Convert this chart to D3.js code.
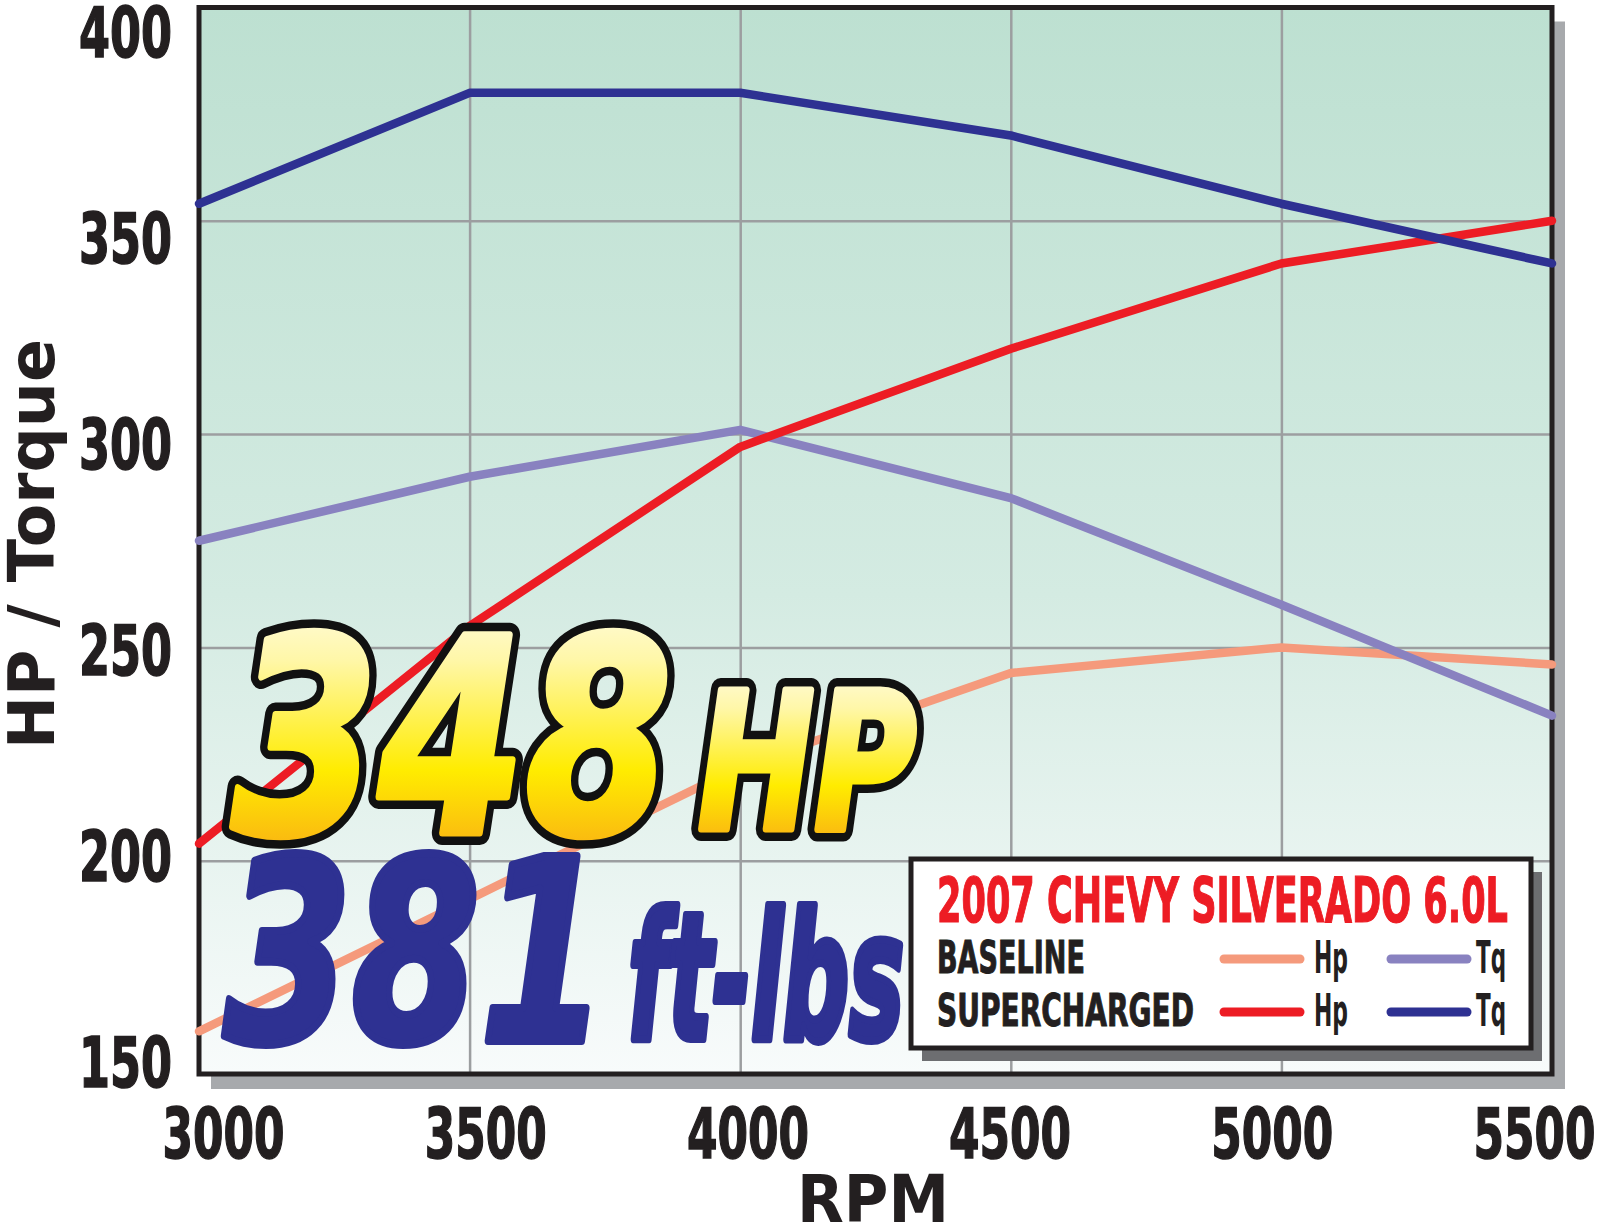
<!DOCTYPE html>
<html><head><meta charset="utf-8">
<script src="https://cdn.jsdelivr.net/npm/d3@7"></script>
<style>
html,body{margin:0;padding:0;background:#fff;}
svg{display:block;}
</style></head><body>
<script>
// ---- data ----
const rpm = [3000, 3500, 4000, 4500, 5000, 5500];
const baselineHp = [160, 191, 222, 244, 250, 246];
const baselineTq = [275, 290, 301, 285, 260, 234];
const superHp = [204, 255, 297, 320, 340, 350];
const superTq = [354, 380, 380, 370, 354, 340];
const yTicks = [150, 200, 250, 300, 350, 400];
const xTicks = [3000, 3500, 4000, 4500, 5000, 5500];
const seriesColors = ["#f59a7c", "#8982c0", "#ed1c24", "#2e3192"];
const legendRows = ["BASELINE", "SUPERCHARGED"];
const legendUnits = ["Hp", "Tq"];
const chartTitle = "2007 CHEVY SILVERADO 6.0L";
const peakHp = "348", peakHpUnit = "HP";
const peakTq = "381", peakTqUnit = "ft-lbs";
const yTitle = "HP / Torque", xTitle = "RPM";

const W = 1600, H = 1231;
const P = {l: 199, r: 1552, t: 7.5, b: 1074};
const narrow = "'Liberation Sans Narrow','Arial Narrow','DejaVu Sans Condensed',sans-serif";
const wide = "'DejaVu Sans','Verdana',sans-serif";

const svg = d3.select("body").append("svg").attr("width", W).attr("height", H);
const defs = svg.append("defs");
const bg = defs.append("linearGradient").attr("id", "bg").attr("x1", 0).attr("y1", 0).attr("x2", 0).attr("y2", 1);
bg.append("stop").attr("offset", "0").attr("stop-color", "#bde0d1");
bg.append("stop").attr("offset", "0.55").attr("stop-color", "#d4ebe2");
bg.append("stop").attr("offset", "1").attr("stop-color", "#f8fbfb");
const gold = defs.append("linearGradient").attr("id", "gold").attr("x1", 0).attr("y1", 0).attr("x2", 0).attr("y2", 1);
gold.append("stop").attr("offset", "0").attr("stop-color", "#fffdf0");
gold.append("stop").attr("offset", "0.25").attr("stop-color", "#fff7a8");
gold.append("stop").attr("offset", "0.6").attr("stop-color", "#ffec00");
gold.append("stop").attr("offset", "1").attr("stop-color", "#f7941d");

const x = d3.scaleLinear().domain([3000, 5500]).range([P.l, P.r]);
const y = d3.scaleLinear().domain([150, 400]).range([P.b, P.t]);
const xLab = d3.scaleLinear().domain([3000, 5500]).range([223, 1534]);
const yLab = d3.scaleLinear().domain([150, 400]).range([1086, 56]);

// shadow + plot area
svg.append("rect").attr("x", P.l + 12).attr("y", P.t + 14).attr("width", P.r - P.l + 1).attr("height", P.b - P.t + 1).attr("fill", "#a7a9ac");
svg.append("rect").attr("x", P.l).attr("y", P.t).attr("width", P.r - P.l).attr("height", P.b - P.t).attr("fill", "url(#bg)");

// grid
svg.append("g").attr("transform", `translate(0,${P.b})`)
  .call(d3.axisBottom(x).tickValues(xTicks).tickSize(-(P.b - P.t)).tickFormat(""))
  .call(g => g.select(".domain").remove())
  .call(g => g.selectAll("text").remove())
  .selectAll("line").attr("stroke", "#9c9ea0").attr("stroke-width", 2.5);
svg.append("g").attr("transform", `translate(${P.l},0)`)
  .call(d3.axisLeft(y).tickValues(yTicks).tickSize(-(P.r - P.l)).tickFormat(""))
  .call(g => g.select(".domain").remove())
  .call(g => g.selectAll("text").remove())
  .selectAll("line").attr("stroke", "#9c9ea0").attr("stroke-width", 2.5);

// border
svg.append("rect").attr("x", P.l).attr("y", P.t).attr("width", P.r - P.l).attr("height", P.b - P.t)
  .attr("fill", "none").attr("stroke", "#231f20").attr("stroke-width", 5);

// tick labels
const xa = svg.append("g").attr("transform", "translate(0,1158)")
  .call(d3.axisBottom(xLab).tickValues(xTicks).tickSize(0).tickPadding(0).tickFormat(d3.format("d")));
xa.select(".domain").remove();
xa.selectAll("line").remove();
xa.selectAll("text").attr("dy", null).attr("y", 0)
  .attr("font-family", narrow).attr("font-weight", "bold").attr("font-size", 70).attr("fill", "#231f20")
  .attr("stroke", "#231f20").attr("stroke-width", 1.5)
  .attr("textLength", 122).attr("lengthAdjust", "spacingAndGlyphs");
const ya = svg.append("g").attr("transform", "translate(172,0)")
  .call(d3.axisLeft(yLab).tickValues(yTicks).tickSize(0).tickPadding(0).tickFormat(d3.format("d")));
ya.select(".domain").remove();
ya.selectAll("line").remove();
ya.selectAll("text").attr("dy", null).attr("x", 0).attr("text-anchor", "end")
  .attr("font-family", narrow).attr("font-weight", "bold").attr("font-size", 69).attr("fill", "#231f20")
  .attr("stroke", "#231f20").attr("stroke-width", 1.5)
  .attr("textLength", 93).attr("lengthAdjust", "spacingAndGlyphs");

// axis titles
svg.append("text").attr("transform", "translate(54,544) rotate(-90)").attr("text-anchor", "middle")
  .attr("font-family", wide).attr("font-weight", "bold").attr("font-size", 64).attr("fill", "#231f20")
  .attr("textLength", 410).attr("lengthAdjust", "spacingAndGlyphs").text(yTitle);
svg.append("text").attr("x", 873).attr("y", 1222).attr("text-anchor", "middle")
  .attr("font-family", wide).attr("font-weight", "bold").attr("font-size", 66).attr("fill", "#231f20")
  .attr("textLength", 152).attr("lengthAdjust", "spacingAndGlyphs").text(xTitle);

// lines
const series = [baselineHp, baselineTq, superHp, superTq];
const line = d3.line().x((d, i) => x(rpm[i])).y(d => y(d));
svg.append("g").selectAll("path").data(series).join("path")
  .attr("d", d => line(d)).attr("fill", "none")
  .attr("stroke", (d, i) => seriesColors[i]).attr("stroke-width", 8.5)
  .attr("stroke-linecap", "round").attr("stroke-linejoin", "round");

// big callouts
function big(txt, xx, yy, fs, len, fill, outline) {
  const mk = () => svg.append("text").attr("x", xx).attr("y", yy)
    .attr("font-family", narrow).attr("font-weight", "bold").attr("font-style", "italic")
    .attr("font-size", fs).attr("textLength", len).attr("lengthAdjust", "spacingAndGlyphs")
    .attr("stroke-linejoin", "round").text(txt);
  if (outline) {
    mk().attr("fill", "#111").attr("stroke", "#111").attr("stroke-width", 24);
    mk().attr("fill", fill).attr("stroke", fill).attr("stroke-width", 7);
  } else {
    mk().attr("fill", fill).attr("stroke", fill).attr("stroke-width", 8);
  }
}
big(peakHp, 232, 833, 272, 440, "url(#gold)", true);
big(peakHpUnit, 698, 829, 190, 218, "url(#gold)", true);
big(peakTq, 224, 1041, 254, 384, "#2e3192", false);
big(peakTqUnit, 628, 1039, 176, 276, "#2e3192", false);

// legend
const L = {x: 911, y: 859, w: 620, h: 189};
svg.append("rect").attr("x", L.x + 11).attr("y", L.y + 13).attr("width", L.w).attr("height", L.h).attr("fill", "#6d6e71");
svg.append("rect").attr("x", L.x).attr("y", L.y).attr("width", L.w).attr("height", L.h)
  .attr("fill", "#fff").attr("stroke", "#231f20").attr("stroke-width", 5);
svg.append("text").attr("x", 937).attr("y", 922).attr("font-family", narrow).attr("font-weight", "bold")
  .attr("font-size", 62).attr("fill", "#ed1c24").attr("stroke", "#ed1c24").attr("stroke-width", 1.2)
  .attr("textLength", 571).attr("lengthAdjust", "spacingAndGlyphs").text(chartTitle);
const rowY = [973, 1026];
const rowW = [148, 257];
legendRows.forEach((r, ri) => {
  svg.append("text").attr("x", 937).attr("y", rowY[ri]).attr("font-family", narrow).attr("font-weight", "bold")
    .attr("font-size", 45).attr("fill", "#231f20").attr("stroke", "#231f20").attr("stroke-width", 1)
    .attr("textLength", rowW[ri]).attr("lengthAdjust", "spacingAndGlyphs").text(r);
  legendUnits.forEach((u, ui) => {
    const k = ri * 2 + ui;
    const lx = [1224, 1391][ui];
    svg.append("line").attr("x1", lx).attr("x2", lx + 76).attr("y1", rowY[ri] - 14).attr("y2", rowY[ri] - 14)
      .attr("stroke", seriesColors[k]).attr("stroke-width", 9).attr("stroke-linecap", "round");
    svg.append("text").attr("x", [1314, 1476][ui]).attr("y", rowY[ri]).attr("font-family", narrow).attr("font-weight", "bold")
      .attr("font-size", 45).attr("fill", "#231f20").attr("textLength", [34, 30][ui]).attr("lengthAdjust", "spacingAndGlyphs").text(u);
  });
});
</script>
</body></html>
